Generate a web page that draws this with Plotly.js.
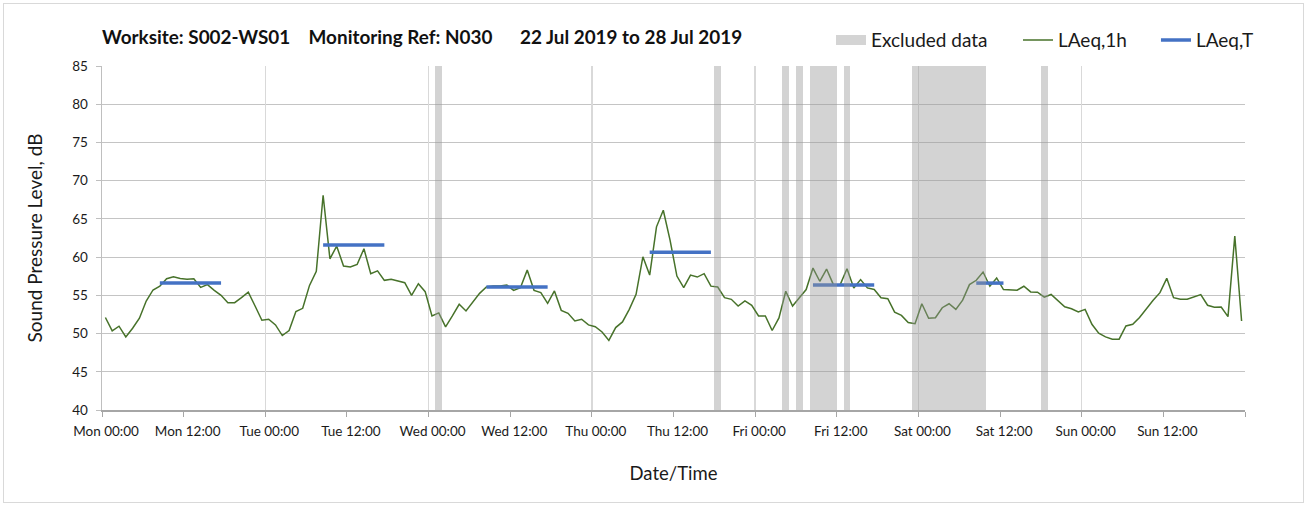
<!DOCTYPE html>
<html>
<head>
<meta charset="utf-8">
<script src="https://cdn.plot.ly/plotly-3.0.1.min.js"></script>
<style>
  html, body { margin: 0; padding: 0; background: #fff; }
  #wrap { position: relative; width: 1309px; height: 508px; }
  #chart { width: 1309px; height: 508px; }
  #frame { position: absolute; left: 3px; top: 3px; width: 1301px; height: 500px;
           border: 1px solid #d9d9d9; box-sizing: border-box; pointer-events: none; }
  .main-svg text { font-variant-numeric: oldstyle-nums; }
</style>
</head>
<body>
<div id="wrap"><div id="chart"></div><div id="frame"></div></div>
<script>
// ---- Data (hour index 0 = Mon 22 Jul 2019 00:00) ----
const chartTitle = 'Worksite: S002-WS01\u00a0\u00a0\u00a0\u00a0Monitoring Ref: N030\u00a0\u00a0\u00a0\u00a0\u00a0\u00a022 Jul 2019 to 28 Jul 2019';
const xAxisTitle = 'Date/Time';
const yAxisTitle = 'Sound Pressure Level, dB';
const seriesNames = ['Excluded data', 'LAeq,1h', 'LAeq,T'];

// hourly LAeq,1h values, one per hour, Mon 00:00 .. Sun 23:00
const laeq1h = [
  52.1, 50.35, 50.96, 49.57, 50.7, 52.0, 54.26, 55.7, 56.2, 57.17, 57.43, 57.2,
  57.1, 57.17, 56.04, 56.4, 55.65, 55.0, 54.04, 54.04, 54.7, 55.4, 53.6, 51.74,
  51.87, 51.13, 49.74, 50.4, 52.87, 53.3, 56.3, 58.13, 68.09, 59.78, 61.43, 58.83,
  58.7, 59.04, 61.09, 57.83, 58.2, 56.96, 57.09, 56.83, 56.65, 55.0, 56.52, 55.48,
  52.3, 52.7, 50.87, 52.3, 53.83, 52.96, 54.04, 55.26, 56.09, 56.22, 56.22, 56.35,
  55.65, 56.0, 58.3, 55.65, 55.35, 53.96, 55.57, 53.04, 52.65, 51.65, 51.87, 51.13,
  50.9, 50.2, 49.1, 50.78, 51.52, 53.17, 55.13, 60.04, 57.65, 63.96, 66.13, 62.2,
  57.52, 56.0, 57.65, 57.39, 57.83, 56.2, 56.09, 54.7, 54.48, 53.6, 54.26, 53.7,
  52.3, 52.3, 50.4, 52.05, 55.54, 53.6, 54.68, 55.76, 58.57, 56.84, 58.44, 56.4,
  56.4, 58.48, 55.97, 57.06, 55.97, 55.76, 54.68, 54.55, 52.81, 52.38, 51.45, 51.3,
  53.9, 52.0, 52.08, 53.38, 53.9, 53.16, 54.37, 56.4, 56.97, 58.05, 56.19, 57.27,
  55.76, 55.76, 55.67, 56.19, 55.45, 55.41, 54.76, 55.11, 54.33, 53.5, 53.25, 52.82,
  53.16, 51.21, 50.04, 49.57, 49.26, 49.26, 51.0, 51.22, 52.09, 53.26, 54.35, 55.35,
  57.22, 54.7, 54.48, 54.48, 54.83, 55.09, 53.7, 53.43, 53.48, 52.22, 62.74, 51.65
];

// excluded periods (hour index start / end)
const excludedStart = [49, 90, 100, 102, 104, 109, 119, 138];
const excludedEnd   = [50, 91, 101, 103, 108, 110, 130, 139];

// LAeq,T periods: first and last hour included, and level
const periodFirstHour = [8, 32, 56, 80, 104, 128];
const periodLastHour  = [17, 41, 65, 89, 113, 132];
const laeqT           = [56.6, 61.6, 56.1, 60.65, 56.35, 56.6];

// x tick labels every 12 hours
const xTickHours  = [0, 12, 24, 36, 48, 60, 72, 84, 96, 108, 120, 132, 144, 156, 168];
const xTickLabels = ['Mon 00:00', 'Mon 12:00', 'Tue 00:00', 'Tue 12:00', 'Wed 00:00', 'Wed 12:00',
                     'Thu 00:00', 'Thu 12:00', 'Fri 00:00', 'Fri 12:00', 'Sat 00:00', 'Sat 12:00',
                     'Sun 00:00', 'Sun 12:00', ''];
const yRange = [40, 85];
const xRange = [0, 168];

// ---- Build traces ----
const FONT = 'Lato, "Open Sans", sans-serif';
const EXCL_COLOR = 'rgba(150,150,150,0.42)';
const EXCL_LEGEND_COLOR = '#d4d4d4';

const hourX = laeq1h.map((v, i) => i + 0.5);

const excludedTrace = {
  type: 'bar',
  name: seriesNames[0],
  x: excludedStart.map((s, i) => (s + excludedEnd[i]) / 2),
  width: excludedStart.map((s, i) => excludedEnd[i] - s),
  y: excludedStart.map(() => yRange[1] - yRange[0]),
  base: yRange[0],
  xaxis: 'x2', yaxis: 'y',
  marker: { color: EXCL_COLOR, line: { width: 0 } },
  showlegend: false,
  hoverinfo: 'skip'
};

// legend entry for the excluded bands (wide grey box like the original key)
const excludedKey = {
  type: 'scatter', mode: 'lines',
  name: seriesNames[0],
  x: [null], y: [null],
  line: { color: EXCL_LEGEND_COLOR, width: 11 },
  legend: 'legend',
  hoverinfo: 'skip'
};

const laeq1hTrace = {
  type: 'scatter', mode: 'lines',
  name: seriesNames[1],
  x: hourX, y: laeq1h,
  line: { color: '#47722a', width: 1.5 },
  legend: 'legend2',
  hoverinfo: 'skip'
};

const tX = [], tY = [];
periodFirstHour.forEach((s, i) => {
  tX.push(s + 0.5, periodLastHour[i] + 0.5, null);
  tY.push(laeqT[i], laeqT[i], null);
});
const laeqTTrace = {
  type: 'scatter', mode: 'lines',
  name: seriesNames[2],
  x: tX, y: tY,
  line: { color: '#4472c4', width: 3.5 },
  connectgaps: false,
  legend: 'legend3',
  hoverinfo: 'skip'
};

const legendBase = {
  orientation: 'h', xanchor: 'left',
  y: 1.075, yanchor: 'middle',
  font: { family: FONT, size: 19, color: '#1a1a1a' },
  bgcolor: 'rgba(0,0,0,0)', borderwidth: 0
};

const layout = {
  width: 1309, height: 508,
  margin: { l: 102, r: 64, t: 66, b: 97.5, pad: 0 },
  paper_bgcolor: '#ffffff', plot_bgcolor: '#ffffff',
  font: { family: FONT, color: '#1a1a1a' },
  showlegend: true,
  bargap: 0,
  title: {
    text: chartTitle,
    x: 0, xref: 'paper', xanchor: 'left',
    y: 1 - 37 / 508, yref: 'container', yanchor: 'middle',
    font: { family: FONT, size: 18.9, color: '#111', weight: 'bold' }
  },
  legend:  Object.assign({}, legendBase, { x: 0.6378 }),
  legend2: Object.assign({}, legendBase, { x: 0.8014 }),
  legend3: Object.assign({}, legendBase, { x: 0.9221 }),
  xaxis: {
    range: xRange, type: 'linear',
    tickmode: 'array', tickvals: xTickHours, ticktext: xTickLabels,
    ticks: 'outside', ticklen: 5, tickwidth: 1, tickcolor: '#a6a6a6',
    tickfont: { family: FONT, size: 13.5, color: '#1a1a1a' },
    ticklabelstandoff: 3,
    ticklabelshift: 4,
    showgrid: false, zeroline: false,
    showline: true, linecolor: '#a6a6a6', linewidth: 2,
    title: { text: xAxisTitle, font: { family: FONT, size: 18.5, color: '#1a1a1a' }, standoff: 29 },
    fixedrange: true
  },
  xaxis2: {
    overlaying: 'x', range: xRange, type: 'linear',
    tick0: 0, dtick: 24,
    showgrid: true, gridcolor: '#d9d9d9', gridwidth: 1.5,
    showticklabels: false, ticks: '', zeroline: false, showline: false,
    fixedrange: true
  },
  yaxis: {
    range: yRange, tick0: 40, dtick: 5,
    ticks: 'outside', ticklen: 5, tickwidth: 1, tickcolor: '#bfbfbf',
    tickfont: { family: FONT, size: 13.5, color: '#1a1a1a' },
    ticklabelstandoff: 5,
    showgrid: true, gridcolor: '#c4c4c4', gridwidth: 1,
    zeroline: false,
    showline: true, linecolor: '#bfbfbf', linewidth: 1.5,
    title: { text: yAxisTitle, font: { family: FONT, size: 19, color: '#1a1a1a' }, standoff: 24 },
    fixedrange: true
  }
};

Plotly.newPlot('chart', [excludedTrace, excludedKey, laeq1hTrace, laeqTTrace], layout,
  { displayModeBar: false, staticPlot: true });
</script>
</body>
</html>
